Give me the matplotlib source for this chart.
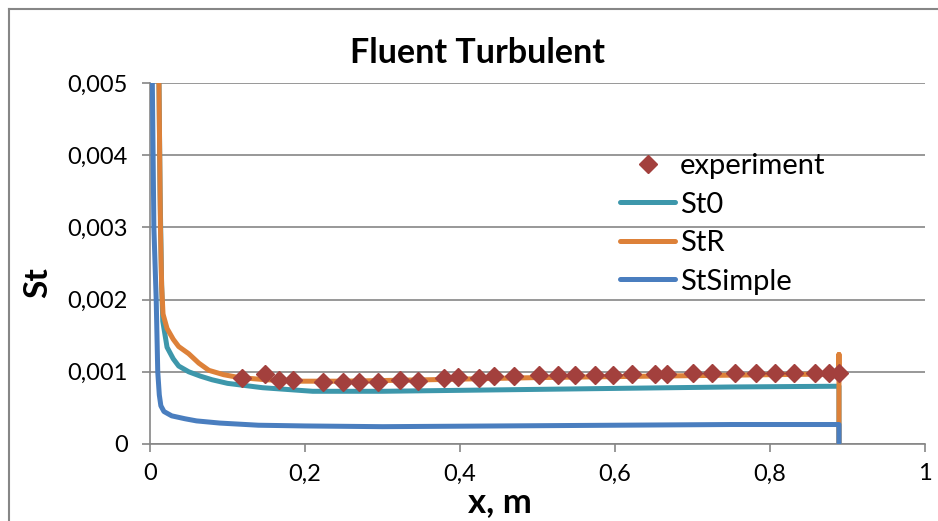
import matplotlib
matplotlib.use('Agg')
import matplotlib.pyplot as plt
from matplotlib.lines import Line2D
from matplotlib.ticker import FuncFormatter

# experimental points
exp_x = [0.119, 0.149, 0.166, 0.185, 0.223, 0.249, 0.270, 0.294, 0.323, 0.346,
         0.379, 0.397, 0.424, 0.444, 0.470, 0.502, 0.527, 0.549, 0.574, 0.597,
         0.622, 0.651, 0.667, 0.701, 0.725, 0.755, 0.782, 0.806, 0.831, 0.858,
         0.876, 0.889]
exp_st = [0.00091, 0.00097, 0.00089, 0.00088, 0.00086, 0.00086, 0.00086, 0.00086,
          0.00088, 0.00087, 0.00091, 0.00093, 0.00092, 0.00094, 0.00094, 0.00095,
          0.00096, 0.00096, 0.00096, 0.00096, 0.00097, 0.00097, 0.00097, 0.00098,
          0.00098, 0.00099, 0.00099, 0.00099, 0.00099, 0.00099, 0.00099, 0.00099]

st0_x = [0.0116, 0.013, 0.015, 0.0165, 0.022, 0.03, 0.037, 0.05, 0.065, 0.08,
         0.1, 0.145, 0.21, 0.3, 0.45, 0.6, 0.75, 0.889, 0.889]
st0 = [0.0050, 0.0035, 0.0022, 0.0017, 0.00134, 0.00118, 0.00108, 0.00100, 0.00094,
       0.00089, 0.00084, 0.00078, 0.00073, 0.00073, 0.00075, 0.00077, 0.00079,
       0.00080, 0.0]

str_x = [0.0116, 0.0125, 0.0135, 0.015, 0.0168, 0.022, 0.030, 0.037, 0.05, 0.063,
         0.076, 0.095, 0.115, 0.15, 0.19, 0.25, 0.36, 0.5, 0.65, 0.8, 0.889, 0.889,
         0.889]
str_st = [0.0050, 0.0040, 0.0030, 0.0022, 0.0018, 0.0016, 0.00145, 0.00135, 0.00125,
          0.00112, 0.00102, 0.00096, 0.00092, 0.00089, 0.00087, 0.00087, 0.00089,
          0.00092, 0.00094, 0.00096, 0.00097, 0.00124, 0.0]

simple_x = [0.003, 0.005, 0.008, 0.010, 0.012, 0.014, 0.018, 0.028, 0.045, 0.06,
            0.09, 0.14, 0.2, 0.3, 0.45, 0.6, 0.75, 0.889, 0.889]
simple_st = [0.0050, 0.0030, 0.0020, 0.0010, 0.00068, 0.00053, 0.00045, 0.00039,
             0.00035, 0.00032, 0.00029, 0.00026, 0.00025, 0.00024, 0.00025, 0.00026,
             0.00027, 0.00027, 0.0]

xticks = [0, 0.2, 0.4, 0.6, 0.8, 1]
yticks = [0, 0.001, 0.002, 0.003, 0.004, 0.005]

plt.rcParams['font.family'] = ['Lato', 'DejaVu Sans']
grey = '#868686'


def comma(v, pos):
    s = ('%g' % v) if v in (0, 1) else ('%.1f' % v if v >= 0.1 else '%.3f' % v)
    return s.replace('.', ',')


fig = plt.figure(figsize=(9.38, 5.21), dpi=100)
ax = fig.add_axes([150 / 938, 1 - 444 / 521, 775 / 938, 361 / 521])

ax.plot(st0_x, st0, color='#3D97AB', lw=3.6, solid_capstyle='round', label='St0', zorder=3)
ax.plot(str_x, str_st, color='#DD8139', lw=3.6, solid_capstyle='round', label='StR', zorder=4)
ax.plot(simple_x, simple_st, color='#4A7EBF', lw=3.6, solid_capstyle='round', label='StSimple', zorder=5)
ax.plot(exp_x, exp_st, 'D', color='#A3403D', ms=9, ls='none', label='experiment', zorder=6)

ax.set_xlim(0, 1)
ax.set_ylim(0, 0.005)
ax.set_xticks(xticks)
ax.set_yticks(yticks)
ax.xaxis.set_major_formatter(FuncFormatter(comma))
ax.yaxis.set_major_formatter(FuncFormatter(comma))
ax.yaxis.grid(True, color=grey, lw=1.2)
ax.set_axisbelow(True)
for s in ['top', 'right']:
    ax.spines[s].set_visible(False)
for s in ['left', 'bottom']:
    ax.spines[s].set_color(grey)
    ax.spines[s].set_linewidth(1.2)
ax.tick_params(axis='both', colors=grey, labelcolor='black', length=6, width=1.2,
               labelsize=17)
ax.tick_params(axis='y', pad=10)
ax.tick_params(axis='x', pad=8)

fig.text(478 / 938, 1 - 53 / 521, 'Fluent Turbulent', fontsize=24.5, fontweight='bold',
         ha='center', va='center')
fig.text(500 / 938, 1 - 502 / 521, 'x, m', fontsize=25, fontweight='bold',
         ha='center', va='center')
fig.text(38 / 938, 1 - 283 / 521, 'St', fontsize=24, fontweight='bold',
         ha='center', va='center', rotation=90)

h, l = ax.get_legend_handles_labels()
order = [3, 0, 1, 2]
ax.legend([h[i] for i in order], [l[i] for i in order], loc='upper left',
          bbox_to_anchor=(620 / 938, 1 - 153 / 521), bbox_transform=fig.transFigure,
          frameon=False, fontsize=21, handlelength=1.9, handletextpad=0.15,
          labelspacing=0.43, borderpad=0, borderaxespad=0)

# chart border
fig.add_artist(Line2D([8.5 / 938, 8.5 / 938], [0, 1 - 8.5 / 521], color=grey, lw=1.5,
                      transform=fig.transFigure))
fig.add_artist(Line2D([8.5 / 938, 1], [1 - 8.5 / 521, 1 - 8.5 / 521], color=grey, lw=1.5,
                      transform=fig.transFigure))

plt.savefig('out.png', dpi=100)
plt.close()
